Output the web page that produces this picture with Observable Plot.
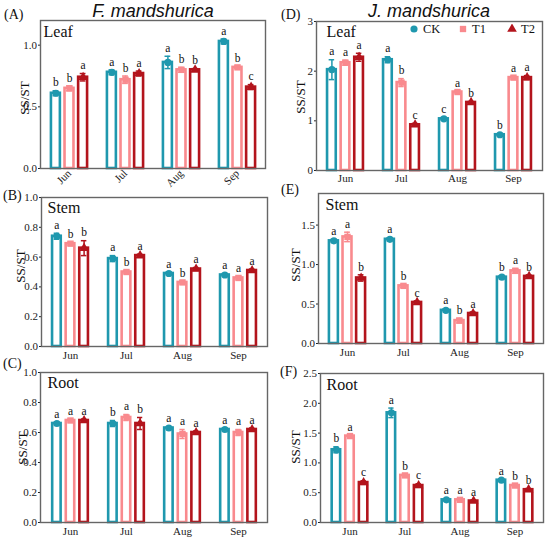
<!DOCTYPE html>
<html><head><meta charset="utf-8">
<script src="https://cdn.jsdelivr.net/npm/d3@7"></script>
<script src="https://cdn.jsdelivr.net/npm/@observablehq/plot@0.6"></script>
<style>
body{margin:0;background:#fff;}
#root{position:relative;width:550px;height:544px;overflow:hidden;font-family:"Liberation Serif","Times New Roman",serif;color:#111;}
.p{position:absolute;}
.lbl{position:absolute;font-size:14px;line-height:1;transform:translateY(-50%);}
.ylab{position:absolute;font-size:13px;line-height:1;transform:translate(-50%,-50%) rotate(-90deg);white-space:nowrap;}
.title{position:absolute;font-family:"Liberation Sans",Arial,sans-serif;font-style:italic;font-size:18px;line-height:1;transform:translate(-50%,-50%);white-space:nowrap;}
.leg{position:absolute;font-size:12.5px;line-height:1;transform:translateY(-50%);}
</style></head><body><div id="root"></div>
<script>
const months = ["Jun","Jul","Aug","Sep"];
const treatments = ["CK","T1","T2"];
const colors = ["#1f98ae","#f98a8e","#b3141c"];
const symbols = ["circle","square","triangle"];

// (A) F. mandshurica Leaf  [CK, T1, T2] x [Jun..Sep]
const aMean = [[0.61,0.78,0.86,1.03],[0.65,0.72,0.80,0.82],[0.74,0.77,0.80,0.66]];
const aSd   = [[0.02,0.02,0.05,0.02],[0.02,0.03,0.02,0.01],[0.03,0.02,0.01,0.02]];
const aLet  = [["b","a","a","a"],["b","b","b","b"],["a","a","b","c"]];
// (B) F. mandshurica Stem
const bMean = [[0.74,0.59,0.49,0.48],[0.69,0.50,0.43,0.46],[0.66,0.61,0.52,0.51]];
const bSd   = [[0.02,0.02,0.01,0.01],[0.01,0.01,0.01,0.01],[0.05,0.01,0.01,0.01]];
const bLet  = [["a","a","a","a"],["b","b","b","a"],["b","a","a","a"]];
// (C) F. mandshurica Root
const cMean = [[0.66,0.66,0.63,0.62],[0.68,0.70,0.59,0.60],[0.68,0.66,0.60,0.62]];
const cSd   = [[0.01,0.02,0.01,0.01],[0.01,0.02,0.03,0.02],[0.01,0.04,0.01,0.01]];
const cLet  = [["a","b","a","a"],["a","a","a","a"],["a","b","a","a"]];
// (D) J. mandshurica Leaf
const dMean = [[2.03,2.23,1.04,0.72],[2.17,1.77,1.58,1.87],[2.28,0.92,1.37,1.87]];
const dSd   = [[0.20,0.06,0.03,0.02],[0.05,0.08,0.02,0.03],[0.08,0.03,0.02,0.04]];
const dLet  = [["a","a","c","b"],["a","b","a","a"],["a","c","b","a"]];
// (E) J. mandshurica Stem
const eMean = [[1.30,1.32,0.42,0.84],[1.35,0.73,0.29,0.92],[0.83,0.52,0.38,0.85]];
const eSd   = [[0.02,0.02,0.02,0.02],[0.06,0.02,0.03,0.03],[0.04,0.02,0.02,0.02]];
const eLet  = [["a","a","a","b"],["a","b","b","a"],["b","c","a","b"]];
// (F) J. mandshurica Root
const fMean = [[1.22,1.84,0.38,0.71],[1.45,0.79,0.38,0.62],[0.67,0.62,0.36,0.55]];
const fSd   = [[0.05,0.08,0.02,0.02],[0.02,0.02,0.02,0.02],[0.03,0.03,0.02,0.02]];
const fLet  = [["b","a","a","a"],["a","b","a","b"],["c","c","a","b"]];

const root = document.getElementById("root");

function panel(o) {
  const bw = (o.width - o.ml - o.mr) / 4;
  const barW = 9.2, pitch = 13.6;
  const inset = (bw - barW) / 2;
  const capInset = bw / 2 - 3;
  const marks = [];
  treatments.forEach((t, i) => {
    const rows = months.map((m, j) => ({month: m, treatment: t, mean: o.mean[i][j], sd: o.sd[i][j], letter: o.let[i][j]}));
    const off = (i - 1) * pitch;
    marks.push(Plot.barY(rows, {x: "month", y: "mean", fill: "white", stroke: colors[i], strokeWidth: 2.6, insetLeft: inset, insetRight: inset, dx: off}));
    marks.push(Plot.ruleX(rows, {x: "month", y1: d => d.mean - d.sd, y2: d => d.mean + d.sd, stroke: colors[i], strokeWidth: 1.5, dx: off}));
    marks.push(Plot.tickY(rows, {x: "month", y: d => d.mean + d.sd, stroke: colors[i], strokeWidth: 1.5, insetLeft: capInset, insetRight: capInset, dx: off}));
    marks.push(Plot.tickY(rows, {x: "month", y: d => d.mean - d.sd, stroke: colors[i], strokeWidth: 1.5, insetLeft: capInset, insetRight: capInset, dx: off}));
    marks.push(Plot.dot(rows, {x: "month", y: "mean", symbol: symbols[i], fill: colors[i], stroke: "none", r: 3.6, dx: off}));
    marks.push(Plot.text(rows, {x: "month", y: d => d.mean + d.sd, text: "letter", dy: -8, dx: off, fontSize: 11.5, fill: "#111"}));
  });
  marks.push(Plot.text([o.organ], {frameAnchor: "top-left", dx: o.odx, dy: o.ody, fontSize: 16, textAnchor: "start", lineAnchor: "top", fill: "#111"}));
  marks.push(Plot.frame({stroke: "#666", strokeWidth: 1.4}));
  const svg = Plot.plot({
    width: o.width, height: o.height,
    marginLeft: o.ml, marginRight: o.mr, marginTop: o.mt, marginBottom: o.mb,
    x: {type: "band", domain: months, padding: 0, label: null, tickSize: 0, tickRotate: o.rot || 0, tickPadding: o.tp},
    y: {domain: o.domain, ticks: o.ticks, tickFormat: o.fmt, tickSize: 2, tickPadding: 1.5, label: null},
    style: {fontFamily: "Liberation Serif, Times New Roman, serif", fontSize: "11px", color: "#222", background: "none", overflow: "visible"},
    marks
  });
  const div = document.createElement("div");
  div.className = "p";
  div.style.left = o.left + "px";
  div.style.top = o.top + "px";
  div.appendChild(svg);
  root.appendChild(div);
}

const f1 = d3.format(".1f"), f0 = d3.format("d");
panel({left: 0, top: 0, width: 275, height: 192, ml: 40, mr: 10, mt: 20, mb: 24, rot: -45, tp: 3,
  domain: [0, 1.2], ticks: [0, 0.5, 1.0], fmt: f1, mean: aMean, sd: aSd, let: aLet, organ: "Leaf", odx: 3, ody: 5});
panel({left: 0, top: 185, width: 275, height: 180, ml: 41, mr: 8, mt: 12, mb: 19, tp: 5,
  domain: [0, 1.0], ticks: [0, 0.2, 0.4, 0.6, 0.8, 1.0], fmt: f1, mean: bMean, sd: bSd, let: bLet, organ: "Stem", odx: 6, ody: 4});
panel({left: 0, top: 362, width: 275, height: 182, ml: 40, mr: 8, mt: 10, mb: 22, tp: 5,
  domain: [0, 1.0], ticks: [0, 0.2, 0.4, 0.6, 0.8, 1.0], fmt: f1, mean: cMean, sd: cSd, let: cLet, organ: "Root", odx: 7, ody: 4});
panel({left: 275, top: 0, width: 275, height: 185, ml: 41, mr: 8, mt: 21, mb: 15, tp: 4,
  domain: [0, 3], ticks: [0, 1, 2, 3], fmt: f0, mean: dMean, sd: dSd, let: dLet, organ: "Leaf", odx: 10, ody: 4});
panel({left: 275, top: 180, width: 275, height: 180, ml: 43, mr: 7, mt: 13, mb: 17, tp: 5,
  domain: [0, 1.9], ticks: [0, 0.5, 1.0, 1.5], fmt: f1, mean: eMean, sd: eSd, let: eLet, organ: "Stem", odx: 7, ody: 5});
panel({left: 275, top: 362, width: 275, height: 182, ml: 45, mr: 7, mt: 11, mb: 22, tp: 5,
  domain: [0, 2.5], ticks: [0, 0.5, 1.0, 1.5, 2.0, 2.5], fmt: f1, mean: fMean, sd: fSd, let: fLet, organ: "Root", odx: 6, ody: 5});

function addText(cls, txt, x, y) {
  const el = document.createElement("div");
  el.className = cls; el.textContent = txt;
  el.style.left = x + "px"; el.style.top = y + "px";
  root.appendChild(el);
}
addText("lbl", "(A)", 4, 15);
addText("lbl", "(B)", 3, 196);
addText("lbl", "(C)", 3, 364);
addText("lbl", "(D)", 281, 15);
addText("lbl", "(E)", 281, 190);
addText("lbl", "(F)", 280, 372);
addText("title", "F. mandshurica", 153, 11);
addText("title", "J. mandshurica", 429, 11);
addText("ylab", "SS/ST", 24, 98);
addText("ylab", "SS/ST", 20, 266);
addText("ylab", "SS/ST", 22, 448);
addText("ylab", "SS/ST", 300, 97);
addText("ylab", "SS/ST", 295, 265);
addText("ylab", "SS/ST", 295, 447);

// legend in panel D
const legX = [414, 463, 512];
const legY = 29;
treatments.forEach((t, i) => {
  const s = d3.create("svg").attr("width", 10).attr("height", 10)
    .style("position", "absolute").style("left", (legX[i] - 5) + "px").style("top", (legY - 5) + "px");
  s.append("path").attr("transform", "translate(5,5)")
    .attr("d", d3.symbol(i === 0 ? d3.symbolCircle : i === 1 ? d3.symbolSquare : d3.symbolTriangle, 40)())
    .attr("fill", colors[i]);
  root.appendChild(s.node());
  addText("leg", t, legX[i] + 9, legY);
});
</script></body></html>
